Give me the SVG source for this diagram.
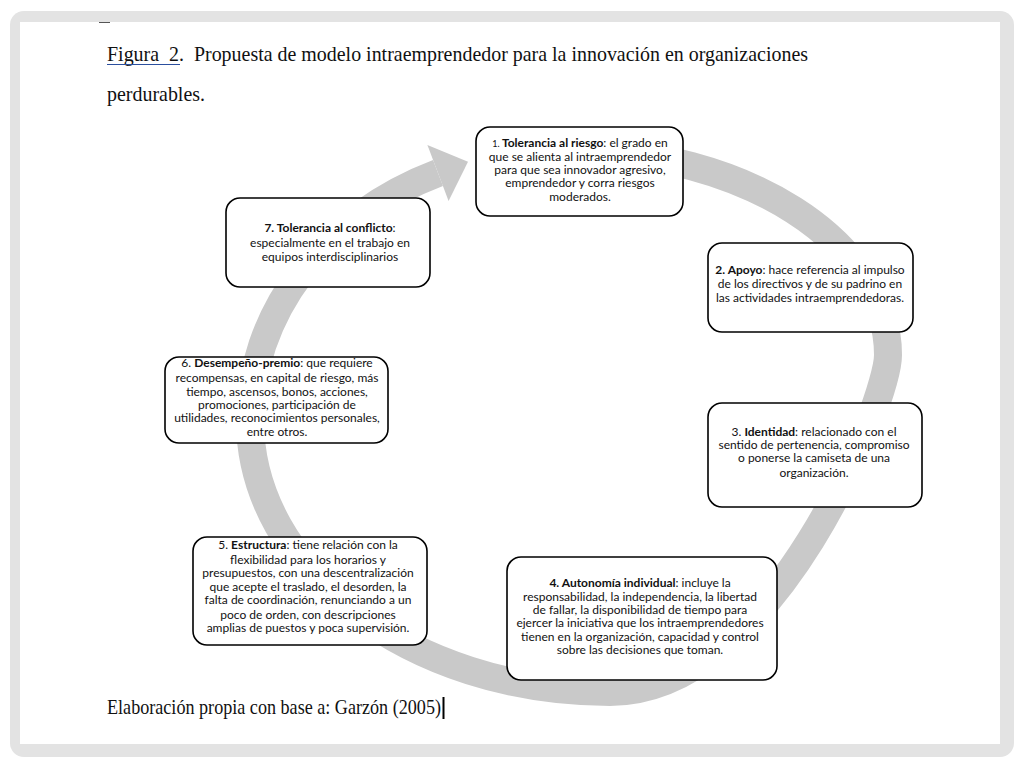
<svg xmlns="http://www.w3.org/2000/svg" width="1024" height="768" viewBox="0 0 1024 768">
<style>
.box{fill:#fff;stroke:#000;stroke-width:1.6}
.t{font-family:Lato,"Open Sans",sans-serif;font-size:12px;fill:#111;text-anchor:middle}
.b{font-weight:bold}
.serif{font-family:"Liberation Serif","Times New Roman",serif;fill:#111}
</style>
<rect width="1024" height="768" fill="#fff"/>
<rect x="10" y="11" width="1004" height="746" rx="14" fill="#e3e3e3"/>
<rect x="20" y="22" width="980" height="722" fill="#fff"/>
<line x1="99" y1="22.5" x2="110" y2="22.5" stroke="#555" stroke-width="1"/>
<text class="serif" x="107" y="61" font-size="21" textLength="701" lengthAdjust="spacingAndGlyphs">Figura&#160; 2.&#160; Propuesta de modelo intraemprendedor para la innovación en organizaciones</text>
<line x1="107" y1="64.5" x2="180" y2="64.5" stroke="#2b4f9e" stroke-width="1.2"/>
<text class="serif" x="107" y="101" font-size="21" textLength="98" lengthAdjust="spacingAndGlyphs">perdurables.</text>
<text class="serif" x="107" y="714" font-size="21" textLength="334" lengthAdjust="spacingAndGlyphs">Elaboración propia con base a: Garzón (2005)</text>
<line x1="443.5" y1="697" x2="443.5" y2="719" stroke="#000" stroke-width="2"/>
<g id="connectors">
<path d="M 566 150 C 744 150 888 242 888 355 C 888 399 775 692 610 692 C 411 692 250 570 250 420 A 316 270 0 0 1 438 173" fill="none" stroke="#c9c9c9" stroke-width="28"/>
<polygon points="468,161.7 427.4,145 448.6,201" fill="#c9c9c9"/>
</g>
<g id="node1">
<rect class="box" x="476" y="127" width="207" height="89" rx="14"/>
<text class="t" x="580" y="147" font-size="13"><tspan font-size="9">1. </tspan><tspan class="b">Tolerancia al riesgo</tspan>: el grado en</text>
<text class="t" x="580" y="161" font-size="13">que se alienta al intraemprendedor</text>
<text class="t" x="580" y="174" font-size="13">para que sea innovador agresivo,</text>
<text class="t" x="580" y="187" font-size="13">emprendedor y corra riesgos</text>
<text class="t" x="580" y="201" font-size="13">moderados.</text>
</g>
<g id="node2">
<rect class="box" x="708" y="243" width="205" height="89" rx="14"/>
<text class="t" x="810" y="274"><tspan class="b">2. Apoyo</tspan>: hace referencia al impulso</text>
<text class="t" x="810" y="288">de los directivos y de su padrino en</text>
<text class="t" x="810" y="302">las actividades intraemprendedoras.</text>
</g>
<g id="node3">
<rect class="box" x="708" y="403" width="214" height="104" rx="14"/>
<text class="t" x="814" y="436" font-size="12.3">3. <tspan class="b">Identidad</tspan>: relacionado con el</text>
<text class="t" x="814" y="449" font-size="12.3">sentido de pertenencia, compromiso</text>
<text class="t" x="814" y="462" font-size="12.3">o ponerse la camiseta de una</text>
<text class="t" x="814" y="477" font-size="12.3">organización.</text>
</g>
<g id="node4">
<rect class="box" x="507" y="557" width="270" height="123" rx="14"/>
<text class="t" x="640" y="587"><tspan class="b">4. Autonomía individual</tspan>: incluye la</text>
<text class="t" x="640" y="601">responsabilidad, la independencia, la libertad</text>
<text class="t" x="640" y="614">de fallar, la disponibilidad de tiempo para</text>
<text class="t" x="640" y="627">ejercer la iniciativa que los intraemprendedores</text>
<text class="t" x="640" y="641">tienen en la organización, capacidad y control</text>
<text class="t" x="640" y="654">sobre las decisiones que toman.</text>
</g>
<g id="node5">
<rect class="box" x="193" y="537" width="234" height="108" rx="14"/>
<text class="t" x="308" y="549" font-size="12.2">5. <tspan class="b">Estructura</tspan>: tiene relación con la</text>
<text class="t" x="308" y="564" font-size="12.2">flexibilidad para los horarios y</text>
<text class="t" x="308" y="577" font-size="12.2">presupuestos, con una descentralización</text>
<text class="t" x="308" y="591" font-size="12.2">que acepte el traslado, el desorden, la</text>
<text class="t" x="308" y="604" font-size="12.2">falta de coordinación, renunciando a un</text>
<text class="t" x="308" y="619" font-size="12.2">poco de orden, con descripciones</text>
<text class="t" x="308" y="632" font-size="12.2">amplias de puestos y poca supervisión.</text>
</g>
<g id="node6">
<rect class="box" x="165" y="357" width="223" height="86" rx="14"/>
<text class="t" x="277" y="367" font-size="12.4">6. <tspan class="b">Desempeño-premio</tspan>: que requiere</text>
<text class="t" x="277" y="382" font-size="12.4">recompensas, en capital de riesgo, más</text>
<text class="t" x="277" y="396" font-size="12.4">tiempo, ascensos, bonos, acciones,</text>
<text class="t" x="277" y="409" font-size="12.4">promociones, participación de</text>
<text class="t" x="277" y="422" font-size="12.4">utilidades, reconocimientos personales,</text>
<text class="t" x="277" y="436" font-size="12.4">entre otros.</text>
</g>
<g id="node7">
<rect class="box" x="226" y="198" width="204" height="89" rx="14"/>
<text class="t" x="330" y="232" font-size="12.9"><tspan class="b">7. Tolerancia al conflicto</tspan>:</text>
<text class="t" x="330" y="247" font-size="12.9">especialmente en el trabajo en</text>
<text class="t" x="330" y="261" font-size="12.9">equipos interdisciplinarios</text>
</g>
</svg>
